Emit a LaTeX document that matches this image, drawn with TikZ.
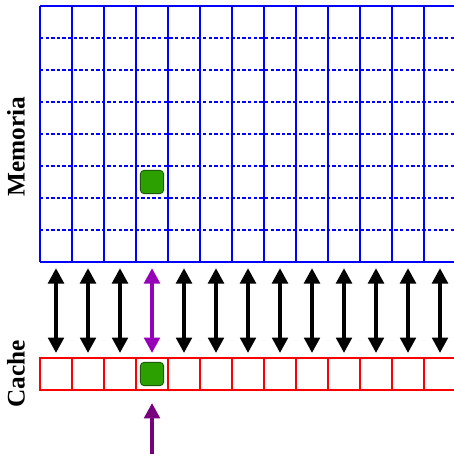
\documentclass[tikz,border=0pt]{standalone}
\usepackage{fontspec}
\setmainfont{Liberation Serif}
\usetikzlibrary{arrows.meta}

\definecolor{memblue}{RGB}{0,0,255}
\definecolor{cachered}{RGB}{255,0,0}
\definecolor{blockgreen}{RGB}{44,160,0}
\definecolor{blockedge}{RGB}{30,90,10}
\definecolor{linkviolet}{RGB}{150,0,185}
\definecolor{feedpurple}{RGB}{120,0,125}

\tikzset{
  memline/.style={memblue, line width=1.8pt},
  memdots/.style={memblue, line width=1.8pt, dash pattern=on 2.4pt off 1.6pt},
  cachecell/.style={draw=cachered, line width=1.4pt, minimum size=0.8cm, inner sep=0pt},
  block/.style={fill=blockgreen, draw=blockedge, line width=0.6pt, rounded corners=2.5pt, minimum size=0.58cm, inner sep=0pt},
  tip/.style={Triangle[width=11pt,length=11pt]},
  transfer/.style={{Triangle[width=11pt,length=11pt]}-{Triangle[width=11pt,length=11pt]}, line width=3pt},
  sidelabel/.style={rotate=90, font=\bfseries\fontsize{18}{20}\selectfont, inner sep=0pt}
}

\begin{document}
\begin{tikzpicture}[x=0.8cm, y=0.8cm]

            \useasboundingbox (-1.25,-6) rectangle (12.9375,8.1875);

            % Memory grid

            \foreach \r in {1,...,7}
              \draw[memdots] (0,\r) -- (13,\r);
            \draw[memline] (0,8) -- (13,8);
            \draw[memline] (0,0) -- (13,0);
            \foreach \c in {0,...,13}
              \draw[memline] (\c,0) -- (\c,8);

            % Nodes

            \foreach \c in {0,...,12}
              \node[cachecell] (c\c) at (\c+0.5,-3.5) {};

            \node[block] (mblk) at (3.5,2.5) {};
            \node[block] (cblk) at (c3) {};

            \node[sidelabel] (memlab) at (-0.75,3.6) {Memoria};
            \node[sidelabel] (cachelab) at (-0.75,-3.5) {Cache};

            \foreach \c in {0,...,12}
              \coordinate (m\c) at (\c+0.5,-0.19);
            \coordinate (feed) at (3.5,-6);

            % Edges

            \foreach \c in {0,1,2,4,5,6,7,8,9,10,11,12}
              \draw[transfer] (m\c) -- ([yshift=0.1cm]c\c.north);
            \draw[transfer, linkviolet] (m3) -- ([yshift=0.1cm]c3.north);
            \draw[-{Triangle[width=11pt,length=11pt]}, line width=3pt, feedpurple] (feed) -- ([yshift=-0.3cm]c3.south);

\end{tikzpicture}
\end{document}
